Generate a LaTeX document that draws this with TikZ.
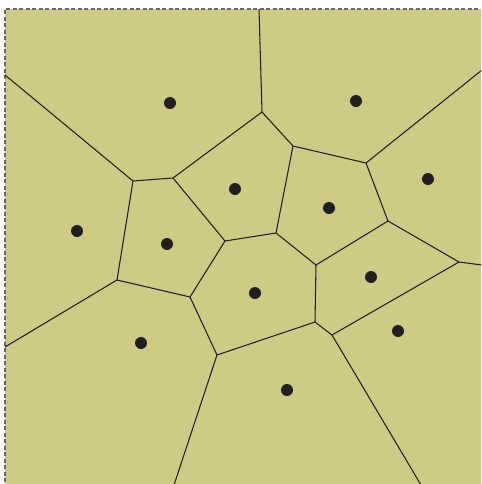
\documentclass[tikz,border=0pt]{standalone}
\usetikzlibrary{calc}
\definecolor{zaitun}{RGB}{205,203,133}
\definecolor{tinta}{RGB}{35,31,32}
\newcommand{\situs}[1]{\foreach \p in {#1} \fill[tinta] (\p) circle (6);}

\begin{document}
\begin{tikzpicture}[x=0.02cm,y=-0.02cm,line width=0.6pt]
  \useasboundingbox (0,0) rectangle (481,484);
  \clip (0,0) rectangle (481,484);
  \fill[zaitun] (5,9) rectangle (495,495);
  \draw[gray!80!black,dash pattern=on 0.08cm off 0.05cm] (5,495) -- (5,9) -- (495,9);

  % titik pada tepi
  \coordinate (T1) at (259,9);
  \coordinate (L1) at (5,75);
  \coordinate (L2) at (5,347);
  \coordinate (R1) at (482,70);
  \coordinate (R2) at (482,265);
  \coordinate (B1) at (174,485);
  \coordinate (B2) at (421,485);

  % titik sudut Voronoi
  \coordinate (V1)  at (262,112);
  \coordinate (V2)  at (173,178);
  \coordinate (V3)  at (133,181);
  \coordinate (V4)  at (117,280);
  \coordinate (V5)  at (190,297);
  \coordinate (V6)  at (225,241);
  \coordinate (V7)  at (276,233);
  \coordinate (V8)  at (293,146);
  \coordinate (V9)  at (366,163);
  \coordinate (V10) at (388,221);
  \coordinate (V11) at (316,265);
  \coordinate (V12) at (459,262);
  \coordinate (V13) at (315,322);
  \coordinate (V14) at (332,335);
  \coordinate (V15) at (217,355);

  % situs
  \coordinate (S1)  at (170,103);
  \coordinate (S2)  at (356,101);
  \coordinate (S3)  at (428,179);
  \coordinate (S4)  at (77,231);
  \coordinate (S5)  at (167,244);
  \coordinate (S6)  at (235,189);
  \coordinate (S7)  at (329,208);
  \coordinate (S8)  at (255,293);
  \coordinate (S9)  at (371,277);
  \coordinate (S10) at (398,331);
  \coordinate (S11) at (141,343);
  \coordinate (S12) at (287,390);

  \draw[tinta] (T1) -- (V1) -- (V8) -- (V9) -- (R1);
  \draw[tinta] (V1) -- (V2) -- (V3) -- (L1);
  \draw[tinta] (V3) -- (V4) -- (L2);
  \draw[tinta] (V4) -- (V5) -- (V6) -- (V2);
  \draw[tinta] (V6) -- (V7) -- (V8);
  \draw[tinta] (V9) -- (V10) -- (V12) -- (R2);
  \draw[tinta] (V7) -- (V11) -- (V10);
  \draw[tinta] (V11) -- (V13) -- (V14) -- (V12);
  \draw[tinta] (V13) -- (V15) -- (V5);
  \draw[tinta] (V15) -- (B1);
  \draw[tinta] (V14) -- (B2);

  \situs{S1,S2,S3,S4,S5,S6,S7,S8,S9,S10,S11,S12}
\end{tikzpicture}
\end{document}
